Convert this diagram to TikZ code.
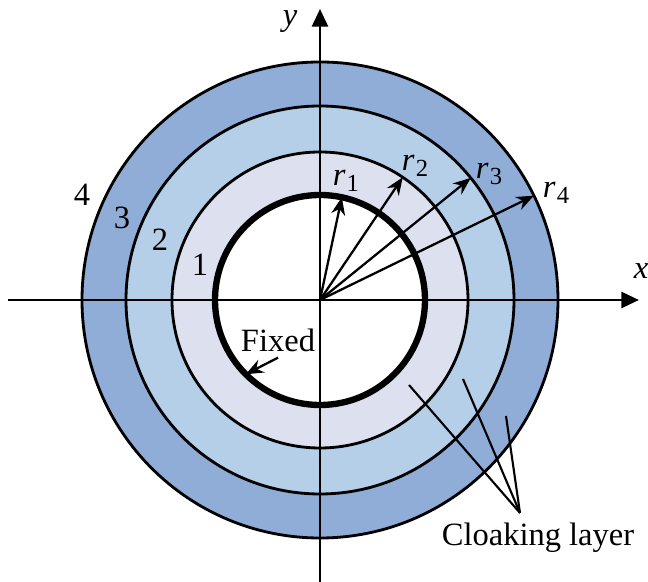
\documentclass[tikz,border=0pt]{standalone}
\usepackage{fontspec}
\setmainfont{Liberation Serif}
\usetikzlibrary{arrows.meta}
\definecolor{ringout}{RGB}{143,173,214}
\definecolor{ringmid}{RGB}{181,207,232}
\definecolor{ringin}{RGB}{221,224,239}
\newcommand{\rlab}[1]{\textit{r}\kern0.6pt\raisebox{-0.4ex}{\fontsize{14}{14}\selectfont #1}}

\begin{document}
\begin{tikzpicture}[font=\fontsize{18.5}{22}\selectfont,
  ring/.style={line width=1.6pt},
  radius arrow/.style={-{Stealth[length=10pt,width=8pt]},line width=1.3pt},
  axis arrow/.style={-{Triangle[length=10pt,width=9pt]},line width=1.7pt}]
\useasboundingbox (-6.4,-5.64) rectangle (6.56,6.0);
\def\rA{2.1} \def\rB{2.96} \def\rC{3.88} \def\rD{4.76}
\fill[ringout] (0,0) circle (\rD); \fill[ringmid] (0,0) circle (\rC);
\fill[ringin] (0,0) circle (\rB); \fill[white] (0,0) circle (\rA);
\draw[ring] (0,0) circle (\rD); \draw[ring] (0,0) circle (\rC); \draw[ring] (0,0) circle (\rB);
\draw[line width=3.6pt] (0,0) circle (\rA);
% axes
\coordinate (O) at (0,0);
\coordinate (xl) at (-6.24,0); \coordinate (xr) at (6.38,0);
\coordinate (yb) at (0,-5.64); \coordinate (yt) at (0,5.82);
\draw[axis arrow] (xl) -- (xr); \draw[axis arrow] (yb) -- (yt);
\node[font=\fontsize{18.5}{22}\selectfont\itshape] (xlab) at (6.42,0.58) {x};
\node[font=\fontsize{18.5}{22}\selectfont\itshape] (ylab) at (-0.6,5.56) {y};
% radii
\coordinate (t1) at (78:\rA); \coordinate (t2) at (56:\rB);
\coordinate (t3) at (39:\rC); \coordinate (t4) at (26:\rD);
\foreach \i in {1,...,4} \draw[radius arrow] (O) -- (t\i);
\node (r1) at (0.52,2.38) {\rlab{1}}; \node (r2) at (1.9,2.68) {\rlab{2}};
\node (r3) at (3.38,2.52) {\rlab{3}}; \node (r4) at (4.72,2.14) {\rlab{4}};
\node (n4) at (-4.76,2.1) {4}; \node (n3) at (-3.96,1.64) {3};
\node (n2) at (-3.2,1.2) {2}; \node (n1) at (-2.4,0.7) {1};
% fixed boundary
\node (fixed) at (-0.84,-0.8) {Fixed};
\coordinate (fx) at (225:\rA);
\draw[radius arrow] (fixed.south) -- (fx);
% cloaking layer
\node (cloak) at (4.36,-4.76) {Cloaking layer};
\coordinate (cl) at (4.0,-4.26);
\coordinate (c1) at (1.78,-1.7); \coordinate (c2) at (2.86,-1.58); \coordinate (c3) at (3.72,-2.32);
\foreach \i in {1,2,3} \draw[line width=1.2pt] (cl) -- (c\i);
\end{tikzpicture}
\end{document}
